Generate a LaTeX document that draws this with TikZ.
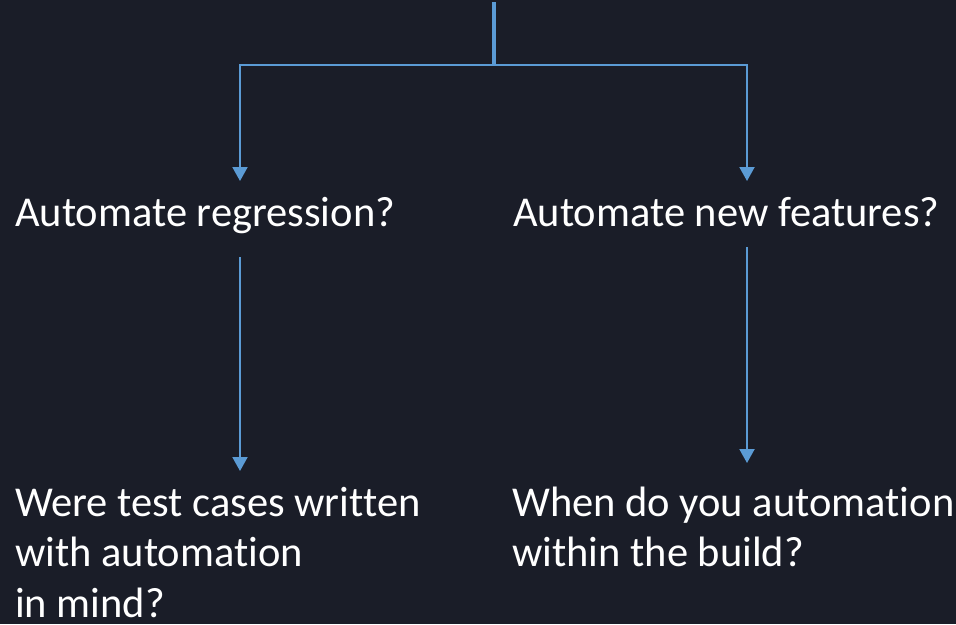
\documentclass[tikz,border=0pt]{standalone}
\usepackage{fontspec}
\setmainfont{Carlito}[Ligatures={NoCommon}]
\usetikzlibrary{arrows.meta}
\definecolor{bgc}{RGB}{26,29,40}
\definecolor{linec}{RGB}{91,155,213}
\begin{document}
\begin{tikzpicture}[x=1pt,y=-1pt,
  lbl/.style={anchor=base west,inner sep=0pt,text=white,align=left,
    font=\fontsize{42.5}{50.8}\selectfont},
  conn/.style={draw=linec,line width=2pt,-{Triangle[width=15pt,length=14pt]}},
  trunk/.style={draw=linec,line width=3.5pt}]
\fill[bgc] (0,0) rectangle (956,624);
\useasboundingbox (0,0) rectangle (956,624);
\node[lbl] (reg) at (15,226) {Automate regression?};
\node[lbl] (feat) at (513,226) {Automate new features?};
\node[lbl] (tc) at (15,617.6) {Were test cases written\\with automation\\in mind?};
\node[lbl] (wb) at (512,566.8) {When do you automation\\within the build?};
\coordinate (top) at (494,2);
\coordinate (split) at (494,65);
\coordinate (t1) at (240,181);
\coordinate (t2) at (747,181);
\coordinate (s3) at (240,257);
\coordinate (t3) at (240,471);
\coordinate (s4) at (747,247);
\coordinate (t4) at (747,463);
\draw[trunk] (top) -- (split);
\draw[conn] (split) -| (t1);
\draw[conn] (split) -| (t2);
\draw[conn] (s3) -- (t3);
\draw[conn] (s4) -- (t4);
\end{tikzpicture}
\end{document}
